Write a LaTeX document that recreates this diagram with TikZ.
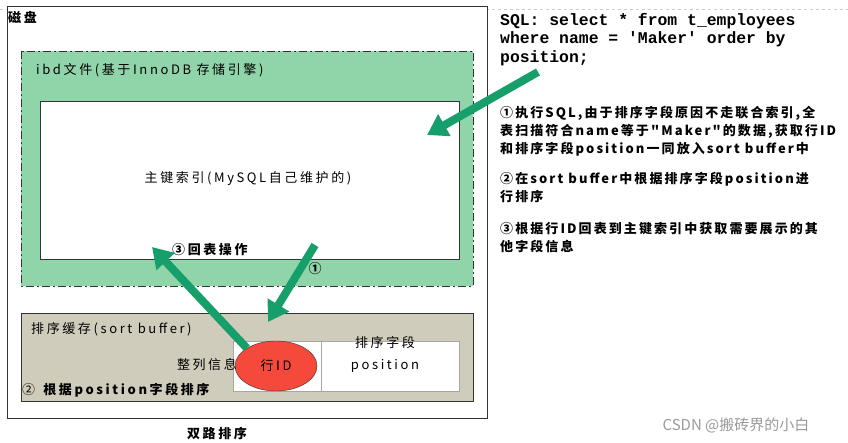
\documentclass[tikz,border=0pt]{standalone}
\usepackage{fontspec}
\setmainfont{Noto Sans CJK SC}[LetterSpace=20, Ligatures=TeXOff]
\newfontfamily\notefont{Noto Sans CJK SC}[LetterSpace=16, Ligatures=TeXOff]
\newfontfamily\sqlfont{Liberation Mono}[Ligatures=TeXOff]
\newfontfamily\markfont{Noto Sans CJK SC}
\usetikzlibrary{arrows.meta,shapes.geometric,positioning}
\definecolor{edgegray}{HTML}{333333}
\definecolor{ibdgreen}{HTML}{90D5AA}
\definecolor{bufbeige}{HTML}{CFCCBB}
\definecolor{flowgreen}{HTML}{179F6B}
\definecolor{rowred}{HTML}{F54A3B}

\begin{document}
\begin{tikzpicture}[x=1pt,y=-1pt,
    every node/.style={font=\fontsize{13}{18}\selectfont, inner sep=0pt},
    boldtxt/.style={font=\fontsize{13}{18}\selectfont\bfseries},
    notes/.style={font=\notefont\fontsize{13}{18}\selectfont\bfseries, anchor=north west, align=left},
    flow/.style={draw=flowgreen, line width=8pt, -{Triangle[length=20pt,width=24pt]}}]
                \useasboundingbox (0,0) rectangle (848,442);
                \draw [gray!40, dashed] (0,9) -- (848,9);
                % disk and its boxes
                \draw [edgegray, fill=white] (7,6) rectangle (487,418);
                \draw [edgegray, fill=ibdgreen, dash pattern=on 8pt off 3pt on 2pt off 3pt] (21,51) rectangle (473,286);
                \draw [edgegray, fill=white] (40,101) rectangle (459,259);
                \draw [edgegray, fill=bufbeige] (21,313) rectangle (473,401);
                \draw [gray!70, fill=white] (233,341) rectangle (321,391);
                \draw [gray!70, fill=white] (321,341) rectangle (459,391);
                \node [boldtxt, anchor=west] (disk) at (8,17) {磁盘};
                \node [anchor=west] (ibd) at (36,70) {ibd文件(基于InnoDB 存储引擎)};
                \node (pkidx) at (248,179) {主键索引(MySQL自己维护的)};
                \node [anchor=west] (sortbuf) at (31,329) {排序缓存(sort buffer)};
                \node [ellipse, draw=edgegray, fill=rowred, minimum width=82pt, minimum height=50pt] (rowid) at (276,366) {行ID};
                \node [anchor=east] (order) at (237,365) {整列信息};
                \node (field) at (385,343) {排序字段};
                \node (pos) at (385,366) {position};
                \node [anchor=west] (step2) at (22,390) {② \textbf{根据position字段排序}};
                \node [boldtxt] (title) at (217,434) {双路排序};
                \node [boldtxt, anchor=west] (back) at (172,250) {③回表操作};
                \node [boldtxt] (one) at (315,269) {①};
                % query and notes
                \node [anchor=north west, align=left, font=\sqlfont\bfseries\fontsize{16.4}{18.5}\selectfont] (sql) at (500,13)
                    {SQL: select * from t\_employees\\where name = 'Maker' order by\\position;};
                \node [notes] (note1) at (500,106) {①执行SQL,由于排序字段原因不走联合索引,全\\表扫描符合name等于"Maker"的数据,获取行ID\\和排序字段position一同放入sort buffer中};
                \node [notes] (note2) at (500,172) {②在sort buffer中根据排序字段position进\\行排序};
                \node [notes] (note3) at (500,222) {③根据行ID回表到主键索引中获取需要展示的其\\他字段信息};
                \node [text=gray!80, font=\markfont\fontsize{15}{18}\selectfont] (mark) at (736,425) {CSDN @搬砖界的小白};
                % arrows
                \coordinate (sqltail) at (538,72);
                \coordinate (pkhead) at (427,135);
                \coordinate (onetail) at (315,245);
                \coordinate (onehead) at (268,322);
                \coordinate (backhead) at (152,247);
                \draw [flow] (sqltail) -- (pkhead);
                \draw [flow] (onetail) -- (onehead);
                \draw [flow] (rowid.north west) -- (backhead);
            \end{tikzpicture}
\end{document}
